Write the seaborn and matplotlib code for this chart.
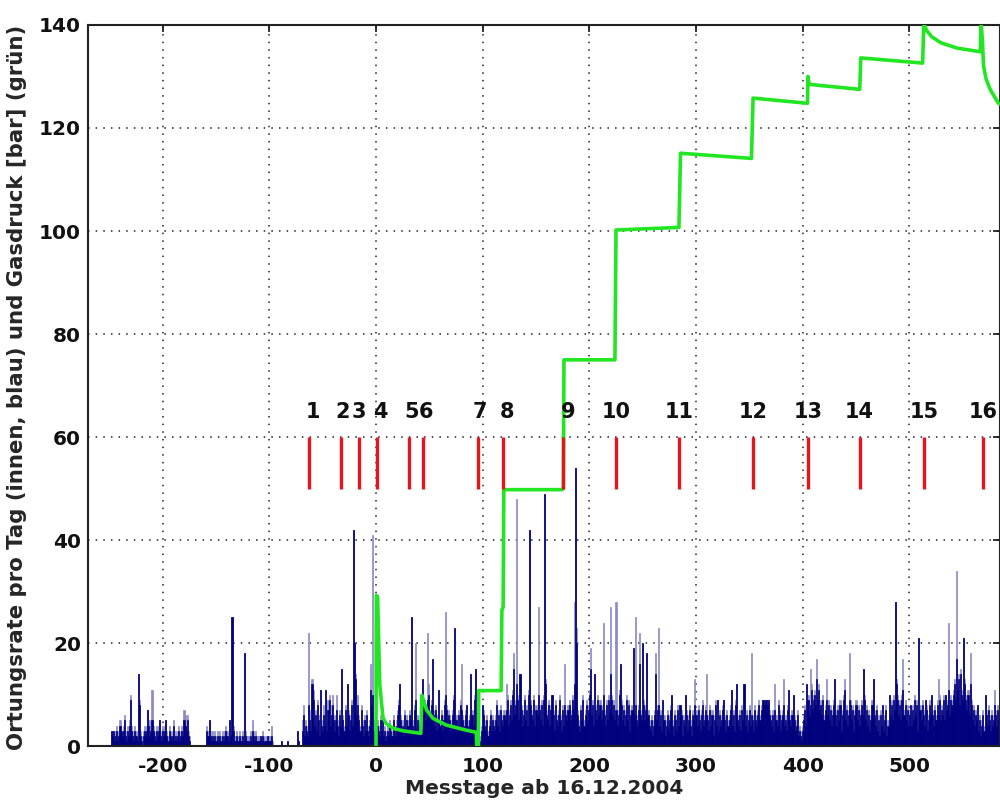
import numpy as np
import pandas as pd
import matplotlib
matplotlib.use("Agg")
import matplotlib.pyplot as plt
import seaborn as sns

# ---------------- data ----------------
# daily location rate: "inner" (dark) and total (light) per segment
seg1_start = -248
seg1_inner = [3,2,3,1,2,3,1,2,4,3,
              2,3,5,2,1,3,2,4,9,3,
              2,1,3,2,1,14,8,2,1,0,
              2,3,2,3,7,4,2,3,5,3,
              2,1,3,2,3,5,2,1,3,2,
              3,5,2,1,3,2,1,2,4,1,
              2,1,2,3,1,2,3,2,5,4,
              3,5,2,1,0,0]
seg1_total = [3,3,3,2,3,4,2,3,5,3,
              3,4,6,3,2,4,3,5,10,4,
              3,2,4,3,2,14,9,3,2,0,
              3,4,3,4,7,5,4,5,11,4,
              3,2,4,3,4,5,3,2,4,3,
              4,5,3,2,4,3,2,3,5,2,
              3,2,3,4,2,3,4,3,7,6,
              4,6,3,2,0,0]

seg2_start = -159
seg2_inner = [3,2,2,5,2,1,2,1,2,1,
              2,1,2,1,1,2,1,2,3,2,
              2,1,5,2,25,3,1,1,2,1,
              1,2,1,1,2,1,18,2,1,1,
              1,2,1,3,2,1,2,1,1,1,
              1,2,1,2,1,1,1,2,1,1,
              1,2,0,0,0,0,0,0,0,0,
              1,0,0,0,0,0,1,0,0,0,
              0,0,0,0,0,3,1,0,0,0]
seg2_total = [4,3,3,5,3,2,3,2,3,2,
              3,2,3,2,2,3,2,3,4,3,
              3,2,5,3,25,4,2,2,3,2,
              2,3,2,2,3,2,18,3,2,2,
              2,3,2,5,3,2,3,2,2,2,
              2,2,2,3,2,1,2,2,2,2,
              2,4,1,0,0,0,0,0,0,0,
              1,0,0,0,0,0,1,0,0,0,
              0,0,0,0,0,3,1,0,0,0]

seg3_start = -69
seg3_inner = [3,6,2,4,3,2,8,5,3,12,
              9,4,6,3,8,5,2,11,4,3,
              6,4,11,3,7,9,4,6,8,5,
              3,5,7,4,2,6,4,15,5,3,
              7,4,12,6,3,5,8,4,42,20,
              13,6,8,5,3,7,4,2,5,3,
              6,3,2,4,11,8,10,3,2,1,
              4,3,2,5,3,6,2,3,1,2,
              3,2,4,3,2,5,3,2,4,6,
              8,12,5,3,4,2,6,3,5,4,
              6,5,25,4,3,7,9,3,5,4,
              3,6,4,13,8,5,7,9,10,6,
              5,8,17,6,4,7,3,5,11,4,
              6,3,5,8,10,7,4,6,5,3,
              4,6,9,23,5,3,6,4,8,7,
              5,3,4,6,8,4,3,5,14,6,
              4,9,15,3,1,2,0,1,3,8,
              6,4,3,5,2,4,6,3,5,4,
              3,5,8,4,6,3,7,5,4,6,
              5,7,9,4,6,8,5,10,15,6,
              8,12,9,5,14,7,4,6,9,5,
              7,4,10,42,8,6,5,9,4,7,
              6,10,7,5,8,4,9,49,12,6,
              5,8,4,7,10,6,3,8,5,4,
              6,9,5,3,7,4,8,6,5,7,
              8,5,6,9,7,12,54,20,6,4,
              3,7,5,9,4,6,8,5,7,10,
              15,6,8,4,14,7,5,9,6,8,
              5,7,10,6,4,8,5,9,7,14,
              9,6,8,5,7,4,6,10,16,8,
              5,7,4,6,9,5,8,3,6,7,
              19,6,8,5,4,7,16,6,5,20,
              8,5,7,18,6,4,3,5,2,4,
              6,14,5,7,8,4,6,3,9,5,
              2,4,6,3,5,7,10,4,2,6,
              5,3,7,4,8,6,2,5,4,10,
              6,3,5,7,4,2,6,5,8,6,
              4,7,5,3,6,8,4,5,7,6,
              5,3,7,4,6,2,5,8,4,9,
              3,6,4,5,7,9,5,3,6,4,
              5,7,11,4,6,3,8,12,5,4,
              6,3,7,5,12,4,6,3,5,7,
              4,6,5,3,7,5,4,6,8,5,
              7,9,9,8,9,9,8,9,6,5,
              4,6,3,7,5,4,8,6,3,5,
              6,8,4,5,3,7,11,5,4,6,
              10,5,3,4,6,2,3,2,1,3,
              5,7,4,12,9,6,8,11,7,9,
              10,8,13,9,11,7,8,6,9,5,
              7,9,6,8,5,7,4,6,8,13,
              6,4,7,5,8,3,6,9,11,5,
              7,4,6,9,8,5,7,3,6,8,
              5,7,4,6,8,6,15,9,5,7,
              4,6,3,5,8,13,6,4,7,3,
              5,2,6,4,8,3,5,7,2,4,
              10,6,8,5,9,7,28,12,9,6,
              8,5,9,11,6,8,5,7,4,6,
              8,4,7,5,9,6,8,3,21,7,
              5,8,6,4,9,7,3,5,8,6,
              10,6,4,7,5,8,6,9,5,7,
              6,9,5,10,7,8,11,6,9,8,
              10,12,9,17,11,13,8,14,10,9,
              21,12,9,7,10,6,12,8,5,7,
              4,6,5,8,3,5,2,4,6,3,
              10,6,4,7,5,3,6,4,5,8,
              6,4,7,5,3]
seg3_total = [5,8,3,5,4,3,22,7,4,13,
              11,5,7,4,9,6,3,11,5,4,
              8,6,11,5,9,10,5,8,10,6,
              4,6,10,5,3,7,5,15,6,4,
              8,5,12,7,4,6,9,5,42,20,
              14,7,10,6,4,8,5,3,6,4,
              7,4,3,5,16,10,41,5,3,2,
              5,4,3,6,4,7,3,4,2,3,
              4,3,5,4,3,6,4,3,5,7,
              9,12,6,4,5,3,7,4,6,5,
              7,6,25,5,4,8,20,4,6,5,
              4,7,5,13,9,6,8,22,12,7,
              6,9,17,7,5,8,4,6,11,5,
              7,4,6,9,26,8,5,7,6,4,
              5,7,10,23,6,4,7,5,9,16,
              6,4,5,7,8,5,4,6,14,7,
              5,10,15,4,2,3,1,2,4,8,
              7,5,4,6,3,5,7,4,6,5,
              4,6,9,5,7,4,8,6,5,7,
              6,12,10,5,7,9,6,11,18,7,
              9,48,10,6,14,8,5,7,10,6,
              8,5,11,42,9,7,6,10,5,8,
              7,27,8,6,9,5,10,49,13,7,
              6,9,5,8,10,7,4,9,6,5,
              7,10,6,4,8,5,16,7,6,8,
              9,6,7,10,8,28,54,23,7,5,
              4,8,6,10,5,7,9,6,8,11,
              19,7,9,5,14,8,6,10,7,9,
              6,8,24,7,5,9,6,10,8,27,
              10,7,9,6,28,5,7,11,16,9,
              6,8,5,7,10,6,9,4,7,8,
              19,7,25,6,5,8,22,7,6,20,
              9,6,8,18,7,5,4,6,3,5,
              7,18,6,8,23,5,7,4,9,6,
              3,5,7,4,6,8,10,5,3,7,
              6,4,8,5,8,7,3,6,5,10,
              7,4,6,8,5,3,7,6,13,7,
              5,8,6,4,7,9,5,6,8,14,
              6,4,8,5,7,3,6,9,5,9,
              4,7,5,6,8,9,6,4,7,5,
              6,8,11,5,7,4,9,12,6,5,
              7,4,8,6,12,5,7,4,6,8,
              5,18,6,4,8,6,5,7,9,6,
              8,9,9,9,9,9,9,9,7,6,
              5,7,4,12,6,5,9,7,4,6,
              7,13,5,6,4,8,11,6,5,7,
              10,6,4,5,7,3,4,3,2,4,
              6,8,5,12,10,7,15,12,8,10,
              11,9,17,10,12,8,9,7,10,6,
              8,13,7,9,6,8,5,7,9,13,
              7,5,8,6,9,4,7,10,13,6,
              8,5,7,18,9,6,8,4,7,9,
              6,8,5,7,9,7,15,10,6,8,
              5,7,4,6,9,13,7,5,8,4,
              6,3,7,5,8,4,6,8,3,5,
              10,7,9,6,10,8,28,13,10,7,
              9,6,10,17,7,9,6,8,5,7,
              8,5,8,6,10,7,9,4,21,8,
              6,9,7,5,9,8,4,6,9,7,
              10,7,5,8,6,9,13,10,6,8,
              7,10,6,10,8,9,24,7,10,9,
              11,13,10,34,12,14,9,15,11,10,
              21,13,10,8,11,7,18,9,6,8,
              5,7,6,8,4,6,3,5,7,4,
              10,7,5,8,6,4,7,5,6,11,
              7,5,8,6,4]

# gas pressure (green)
gas_days = [0, 0.3, 1.5, 3.5, 6.5, 9.5, 16, 25, 42, 43, 47.5, 53.5, 66, 85, 94,
            94.5, 96, 96.3, 117.3, 118, 119.2, 119.8, 174, 175.7, 176.2, 224,
            225, 284, 285.5, 352, 353.5, 404.5, 405, 406, 414, 453.5, 454.5,
            512.5, 513.5, 516, 521, 530, 545, 566.5, 567.2, 568.5, 569.6, 572,
            576, 583.5, 586]
gas_bar = [0, 29.3, 29, 12, 5.6, 4.4, 3.5, 3.0, 2.5, 9.9, 7.0, 5.4, 4.1, 3.1, 2.7,
           0, 0, 10.8, 10.8, 26.4, 27, 49.8, 49.8, 50, 75, 75,
           100.2, 100.7, 115.1, 114.1, 125.8, 124.8, 130, 128.5, 128.3, 127.5, 133.6,
           132.6, 140.5, 139, 137.7, 136.5, 135.5, 134.8, 140.5, 137, 132, 129.5,
           127.4, 124.8, 124.6]

# event markers
event_days = [-62.6, -32.8, -15.9, 1.2, 31.2, 44.4, 96, 119.4, 175.7, 224.9,
              284.5, 353.4, 405, 454, 513.4, 569.1]
event_labels = ["1", "2", "3", "4", "5", "6", "7", "8", "9", "10",
                "11", "12", "13", "14", "15", "16"]
event_label_days = [-59, -31, -16, 4.4, 33.5, 47, 97.6, 123.2, 180.4, 224.8,
                    284.3, 354, 405.6, 453.4, 514.4, 568.8]

x_ticks = [-200, -100, 0, 100, 200, 300, 400, 500]
y_ticks = [0, 20, 40, 60, 80, 100, 120, 140]

# ---------------- build frame ----------------
def seg(start, inner, total):
    n = min(len(inner), len(total))
    return pd.DataFrame({"day": np.arange(start, start + n),
                         "inner": inner[:n], "total": total[:n]})

df = pd.concat([seg(seg1_start, seg1_inner, seg1_total),
                seg(seg2_start, seg2_inner, seg2_total),
                seg(seg3_start, seg3_inner, seg3_total)], ignore_index=True)

gas = pd.DataFrame({"day": gas_days, "bar": gas_bar})

# ---------------- plot ----------------
sns.set_style("white")
plt.rcParams["font.family"] = ["DejaVu Sans"]

fig = plt.figure(figsize=(10.0, 8.05), dpi=100)
ax = fig.add_axes([0.088, 0.073, 0.912, 0.896])

light_col = "#8a8ac6"
dark_col = "#00007e"

sns.histplot(data=df, x="day", weights="total", discrete=True, color=light_col,
             alpha=1, linewidth=0.5, edgecolor=light_col, ax=ax)
sns.histplot(data=df, x="day", weights="inner", discrete=True, color=dark_col,
             alpha=1, linewidth=0.5, edgecolor=dark_col, ax=ax)

sns.lineplot(data=gas, x="day", y="bar", sort=False, color="#22e622",
             linewidth=2.6, ax=ax, zorder=5)

ax.vlines(event_days, 50, 60, colors="#e3161e", linewidth=2.4, zorder=6)
for d, lab in zip(event_label_days, event_labels):
    ax.text(d, 63.7, lab, ha="center", va="baseline", fontsize=15,
            fontweight="bold", color="#111111", zorder=7)

ax.set_xlim(-270, 585)
ax.set_ylim(0, 140)
ax.set_xticks(x_ticks)
ax.set_yticks(y_ticks)
ax.set_xticklabels([str(t) for t in x_ticks], fontsize=14.5, fontweight="bold")
ax.set_yticklabels([str(t) for t in y_ticks], fontsize=14.5, fontweight="bold")
ax.tick_params(axis="x", pad=8)
ax.tick_params(direction="in", length=5, width=1.2, top=True, right=True,
               colors="#111111")
ax.tick_params(axis="y", pad=5)

ax.grid(True, color="#222222", linestyle=(0, (1, 4)), linewidth=1.1)
ax.set_axisbelow(True)

for s in ax.spines.values():
    s.set_color("#222222")
    s.set_linewidth(1.5)

ax.set_xlabel("Messtage ab 16.12.2004", fontsize=14.5, fontweight="bold",
              labelpad=2)
ax.set_ylabel("Ortungsrate pro Tag (innen, blau) und Gasdruck [bar] (grün)",
              fontsize=15.3, fontweight="bold", labelpad=6)
ax.yaxis.set_label_coords(-0.067, 0.497)

fig.savefig("out.png", dpi=100)
